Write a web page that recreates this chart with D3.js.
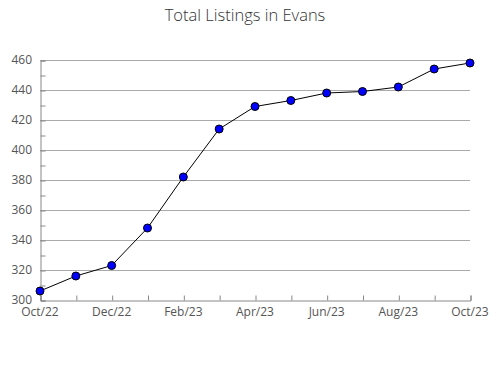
<!DOCTYPE html>
<html><head><meta charset="utf-8">
<script src="https://cdn.jsdelivr.net/npm/d3@7"></script>
<style>body{margin:0;background:#fff;} svg{display:block;}</style>
</head><body><div id="c"></div>
<script>
const months = ["Oct/22","Nov/22","Dec/22","Jan/23","Feb/23","Mar/23","Apr/23","May/23","Jun/23","Jul/23","Aug/23","Sep/23","Oct/23"];
const listings = [306,316,323,348,382,414,429,433,438,439,442,454,458];
const yTicks = [300,320,340,360,380,400,420,440,460];
const xLabelMonths = ["Oct/22","Dec/22","Feb/23","Apr/23","Jun/23","Aug/23","Oct/23"];
const title = "Total Listings in Evans";

const W=490,H=380, L=40, R=470, T=60, B=300;
const svg=d3.select("#c").append("svg").attr("width",W).attr("height",H);
const font="'Open Sans', sans-serif";
const x=d3.scalePoint().domain(months).range([L,R]);
const y=d3.scaleLinear().domain([300,460]).range([B,T]);

svg.append("text").attr("x",245).attr("y",21).attr("text-anchor","middle")
  .attr("font-family",font).attr("font-size",16.5).attr("font-weight",300).attr("fill","#333").text(title);

// grid
svg.append("g").selectAll("line").data(yTicks.slice(1)).join("line")
  .attr("x1",L).attr("x2",R).attr("y1",d=>y(d)+0.5).attr("y2",d=>y(d)+0.5)
  .attr("stroke","#aaa").attr("stroke-width",1);

// y axis
const ya=d3.axisLeft(y).tickValues(d3.range(300,461,10)).tickSize(-5).tickFormat(()=> "");
const yg=svg.append("g").attr("transform",`translate(${L+0.5},0.5)`).call(ya);
yg.select(".domain").attr("stroke","#888");
yg.selectAll(".tick line").attr("stroke","#888");
svg.append("g").selectAll("text").data(yTicks).join("text")
  .attr("x",32).attr("y",d=>y(d)+4).attr("text-anchor","end")
  .attr("font-family",font).attr("font-size",12).attr("fill","#555").text(d=>d);

// x axis
const xa=d3.axisBottom(x).tickSize(-5).tickFormat(()=> "");
const xg=svg.append("g").attr("transform",`translate(0.5,${B+0.5})`).call(xa);
xg.select(".domain").attr("stroke","#888");
xg.selectAll(".tick line").attr("stroke","#888");
svg.append("g").selectAll("text").data(xLabelMonths).join("text")
  .attr("x",d=>x(d)).attr("y",316).attr("text-anchor","middle")
  .attr("font-family",font).attr("font-size",12).attr("fill","#555").text(d=>d);

// line
const line=d3.line().x((d,i)=>x(months[i])).y(d=>y(d));
svg.append("path").datum(listings).attr("d",line).attr("fill","none").attr("stroke","#000").attr("stroke-width",1);
svg.append("g").selectAll("circle").data(listings).join("circle")
  .attr("cx",(d,i)=>x(months[i])).attr("cy",d=>y(d)).attr("r",4)
  .attr("fill","#0000ff").attr("stroke","#000").attr("stroke-width",1);
</script></body></html>
